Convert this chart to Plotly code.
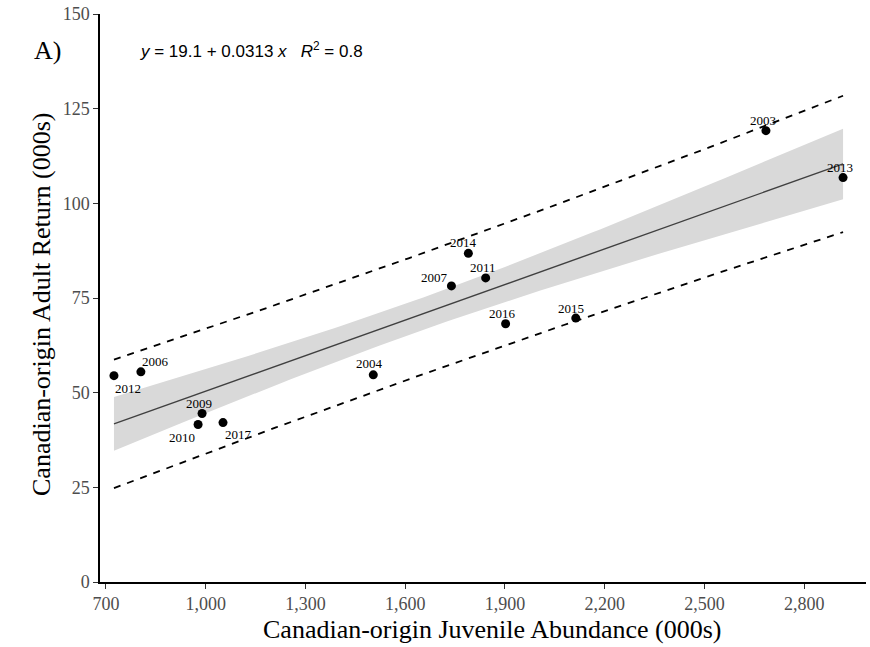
import numpy as np
import plotly.graph_objects as go

# Canadian-origin juvenile abundance (000s) and adult return (000s) by year
years = ["2012", "2006", "2009", "2010", "2017", "2004", "2007",
         "2014", "2011", "2016", "2015", "2003", "2013"]
juvenile = [724, 805, 989, 977, 1052, 1504, 1739, 1790, 1842, 1902, 2113, 2685, 2917]
adult = [54.5, 55.5, 44.5, 41.6, 42.1, 54.7, 78.2, 86.8, 80.3, 68.2, 69.7, 119.2, 106.8]

# fitted model as reported
intercept = 19.1
slope = 0.0313
r_squared = 0.8

x_ticks = [700, 1000, 1300, 1600, 1900, 2200, 2500, 2800]
y_ticks = [0, 25, 50, 75, 100, 125, 150]

# label offsets in pixels (dx, dy) for each year tag
label_offsets = [(14, 13), (15, -10), (-3, -10), (-16, 13), (15, 12), (-4, -11),
                 (-17, -8), (-5, -11), (-3, -10), (-3, -10), (-5, -10), (-3, -10), (-3, -10)]

x = np.array(juvenile, dtype=float)
y = np.array(adult, dtype=float)
n = len(x)
xbar = x.mean()
sxx = ((x - xbar) ** 2).sum()
resid = y - (intercept + slope * x)
s = np.sqrt((resid ** 2).sum() / (n - 2))
t_crit = 1.363  # t(0.90, df=11): 80% intervals

xs = np.linspace(x.min(), x.max(), 100)
fit = intercept + slope * xs
ci = t_crit * s * np.sqrt(1 / n + (xs - xbar) ** 2 / sxx)
pi = t_crit * s * np.sqrt(1 + 1 / n + (xs - xbar) ** 2 / sxx)

serif = "Liberation Serif, Times New Roman, serif"

fig = go.Figure()

# confidence band
fig.add_trace(go.Scatter(
    x=np.concatenate([xs, xs[::-1]]),
    y=np.concatenate([fit + ci, (fit - ci)[::-1]]),
    fill="toself", fillcolor="#d9d9d9", line=dict(width=0),
    hoverinfo="skip", showlegend=False))

# prediction interval
for bound in (fit + pi, fit - pi):
    fig.add_trace(go.Scatter(
        x=xs, y=bound, mode="lines",
        line=dict(color="black", width=1.8, dash="7px,7px"),
        hoverinfo="skip", showlegend=False))

# regression line
fig.add_trace(go.Scatter(
    x=xs, y=fit, mode="lines",
    line=dict(color="#404040", width=1.4),
    showlegend=False))

# observations
fig.add_trace(go.Scatter(
    x=juvenile, y=adult, mode="markers",
    marker=dict(color="black", size=9),
    text=years, showlegend=False))

for yr, xv, yv, (dx, dy) in zip(years, juvenile, adult, label_offsets):
    fig.add_annotation(
        x=xv, y=yv, text=yr, showarrow=False,
        xshift=dx, yshift=-dy,
        font=dict(family=serif, size=13, color="black"))

fig.add_annotation(
    xref="paper", yref="paper", x=-0.069, y=0.935,
    text="A)", showarrow=False, xanchor="center", yanchor="middle",
    font=dict(family=serif, size=26, color="black"))

fig.add_annotation(
    xref="paper", yref="paper", x=0.05, y=0.937,
    text=f"<i>y</i> = {intercept} + {slope} <i>x</i>   <i>R</i><sup>2</sup> = {r_squared}",
    showarrow=False, xanchor="left", yanchor="middle",
    font=dict(family="Liberation Sans, Arial, sans-serif", size=17, color="black"))

# axis titles
fig.add_annotation(
    xref="paper", yref="paper", x=0.512, y=-0.0842,
    text="Canadian-origin Juvenile Abundance (000s)", showarrow=False,
    xanchor="center", yanchor="middle",
    font=dict(family=serif, size=26, color="black"))
fig.add_annotation(
    xref="paper", yref="paper", x=-0.0757, y=0.4877, textangle=-90,
    text="Canadian-origin Adult Return (000s)", showarrow=False,
    xanchor="center", yanchor="middle",
    font=dict(family=serif, size=26, color="black"))

fig.update_layout(
    width=870, height=647,
    margin=dict(l=100, r=4, t=12, b=65),
    plot_bgcolor="white", paper_bgcolor="white",
    xaxis=dict(
        range=[682, 2986], tickvals=x_ticks,
        ticktext=[f"{v:,}" for v in x_ticks],
        showgrid=False, zeroline=False,
        showline=True, linecolor="black", linewidth=1.5,
        ticks="outside", ticklen=5, tickcolor="#333333", tickwidth=1.2,
        tickfont=dict(family=serif, size=18, color="#4d4d4d")),
    yaxis=dict(
        range=[0, 150], tickvals=y_ticks,
        showgrid=False, zeroline=False,
        showline=True, linecolor="black", linewidth=1.5,
        ticks="outside", ticklen=5, tickcolor="#333333", tickwidth=1.2,
        tickfont=dict(family=serif, size=18, color="#4d4d4d")),
)

fig.write_html("out.html")
